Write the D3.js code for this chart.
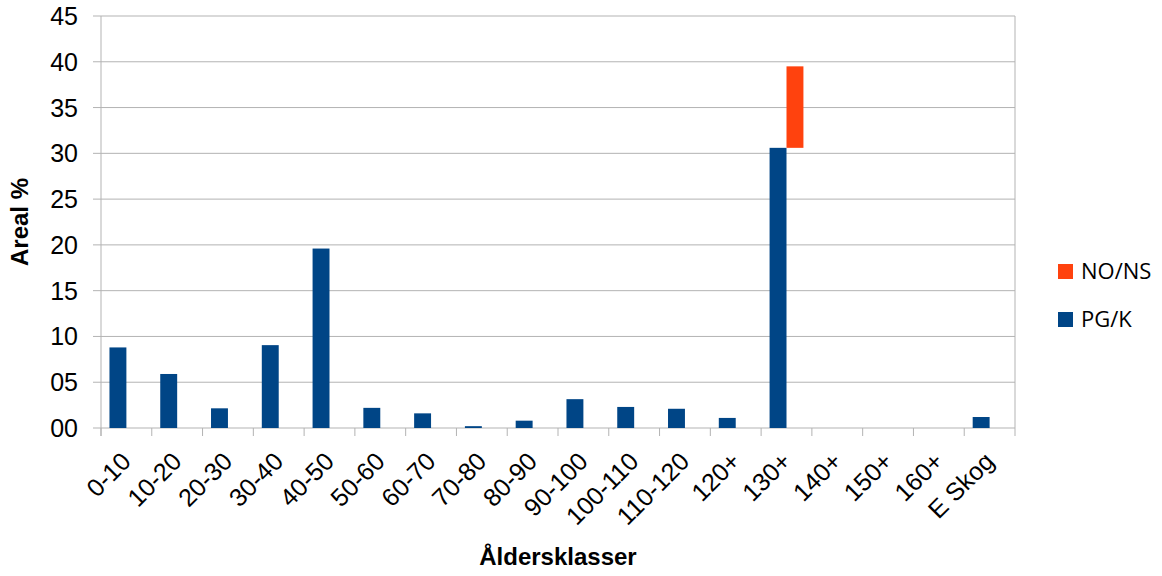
<!DOCTYPE html>
<html>
<head>
<meta charset="utf-8">
<script src="https://cdn.jsdelivr.net/npm/d3@7"></script>
<style>
    body { margin: 0; background: #fff; }
</style>
</head>
<body>
<div class="chart__container"></div>
<script>
const categories = ['0-10', '10-20', '20-30', '30-40', '40-50', '50-60', '60-70', '70-80', '80-90',
    '90-100', '100-110', '110-120', '120+', '130+', '140+', '150+', '160+', 'E Skog'];
// PG/K values, in percent
const pgkValues = [8.8, 5.9, 2.15, 9.05, 19.6, 2.2, 1.6, 0.2, 0.8, 3.15, 2.3, 2.1, 1.1, 30.6, 0, 0, 0, 1.2];
// NO/NS values, drawn on top of the PG/K value of the same class
const nonsValues = [0, 0, 0, 0, 0, 0, 0, 0, 0, 0, 0, 0, 0, 8.9, 0, 0, 0, 0];
const yTicks = [0, 5, 10, 15, 20, 25, 30, 35, 40, 45];
const seriesNames = ['PG/K', 'NO/NS'];
const seriesColors = ['#004586', '#ff420e'];

function whenDocumentLoaded(action) {
    if (document.readyState === "loading") {
        document.addEventListener("DOMContentLoaded", action);
    } else {
        action();
    }
}

function drawChart() {
    const width = 1162, height = 576;
    const plot = {left: 101, right: 1015, top: 16, bottom: 428};
    const font = "'Liberation Sans', Arial, sans-serif";

    const svg = d3.select(".chart__container")
        .append("svg")
        .attr("width", width)
        .attr("height", height);

    const x = d3.scaleBand()
        .domain(categories)
        .range([plot.left, plot.right]);

    // two slots per category, gap 100%
    const slot = d3.scaleBand()
        .domain(seriesNames)
        .range([0, x.bandwidth()])
        .paddingOuter(0.5)
        .paddingInner(0);

    const y = d3.scaleLinear()
        .domain([0, 45])
        .range([plot.bottom, plot.top]);

    // gridlines
    svg.append("g")
        .selectAll("line")
        .data(yTicks)
        .enter()
        .append("line")
        .attr("x1", plot.left - 8)
        .attr("x2", plot.right)
        .attr("y1", d => y(d))
        .attr("y2", d => y(d))
        .style("stroke", "#b3b3b3")
        .style("stroke-width", 1);

    // y tick labels
    svg.append("g")
        .selectAll("text")
        .data(yTicks)
        .enter()
        .append("text")
        .attr("x", 78)
        .attr("y", d => y(d) + 9)
        .attr("text-anchor", "end")
        .style("font-family", font)
        .style("font-size", "25px")
        .attr("fill", "#000")
        .text(d => d3.format("02d")(d));

    // left and right axis lines
    svg.append("line")
        .attr("x1", plot.left).attr("x2", plot.left)
        .attr("y1", plot.top).attr("y2", plot.bottom + 8)
        .style("stroke", "#b3b3b3");
    svg.append("line")
        .attr("x1", plot.right).attr("x2", plot.right)
        .attr("y1", plot.top).attr("y2", plot.bottom + 8)
        .style("stroke", "#b3b3b3");

    // x ticks
    svg.append("g")
        .selectAll("line")
        .data(categories)
        .enter()
        .append("line")
        .attr("x1", d => x(d))
        .attr("x2", d => x(d))
        .attr("y1", plot.bottom)
        .attr("y2", plot.bottom + 8)
        .style("stroke", "#b3b3b3");

    // PG/K bars
    svg.append("g")
        .selectAll("rect")
        .data(categories)
        .enter()
        .append("rect")
        .attr("x", d => x(d) + slot('PG/K'))
        .attr("width", slot.bandwidth())
        .attr("y", (d, i) => y(pgkValues[i]))
        .attr("height", (d, i) => y(0) - y(pgkValues[i]))
        .attr("fill", seriesColors[0]);

    // NO/NS bars, starting at the PG/K level
    svg.append("g")
        .selectAll("rect")
        .data(categories.filter((d, i) => nonsValues[i] > 0))
        .enter()
        .append("rect")
        .attr("x", d => x(d) + slot('NO/NS'))
        .attr("width", slot.bandwidth())
        .attr("y", d => {
            const i = categories.indexOf(d);
            return y(pgkValues[i] + nonsValues[i]);
        })
        .attr("height", d => {
            const i = categories.indexOf(d);
            return y(pgkValues[i]) - y(pgkValues[i] + nonsValues[i]);
        })
        .attr("fill", seriesColors[1]);

    // x labels, rotated
    svg.append("g")
        .selectAll("text")
        .data(categories)
        .enter()
        .append("text")
        .attr("transform", d => "translate(" + (x(d) + x.bandwidth() / 2 + 6) + ",463) rotate(-45)")
        .attr("text-anchor", "end")
        .style("font-family", font)
        .style("font-size", "25px")
        .attr("fill", "#000")
        .text(d => d);

    // axis titles
    svg.append("text")
        .attr("x", (plot.left + plot.right) / 2)
        .attr("y", 565)
        .attr("text-anchor", "middle")
        .style("font-family", font)
        .style("font-size", "24px")
        .style("font-weight", "bold")
        .text("Åldersklasser");

    svg.append("text")
        .attr("transform", "translate(28," + ((plot.top + plot.bottom) / 2) + ") rotate(-90)")
        .attr("text-anchor", "middle")
        .style("font-family", font)
        .style("font-size", "24px")
        .style("font-weight", "bold")
        .text("Areal %");

    // legend
    const legendItems = [
        {name: 'NO/NS', color: seriesColors[1]},
        {name: 'PG/K', color: seriesColors[0]}
    ];
    const legend = svg.append("g")
        .selectAll("g")
        .data(legendItems)
        .enter()
        .append("g")
        .attr("transform", (d, i) => "translate(1058," + (264 + i * 48) + ")");

    legend.append("rect")
        .attr("width", 15)
        .attr("height", 15)
        .attr("fill", d => d.color);

    legend.append("text")
        .attr("x", 23)
        .attr("y", 15)
        .style("font-family", "'Open Sans', 'Noto Sans', sans-serif")
        .style("font-size", "22px")
        .attr("fill", "#000")
        .text(d => d.name);
}

whenDocumentLoaded(drawChart);
</script>
</body>
</html>
